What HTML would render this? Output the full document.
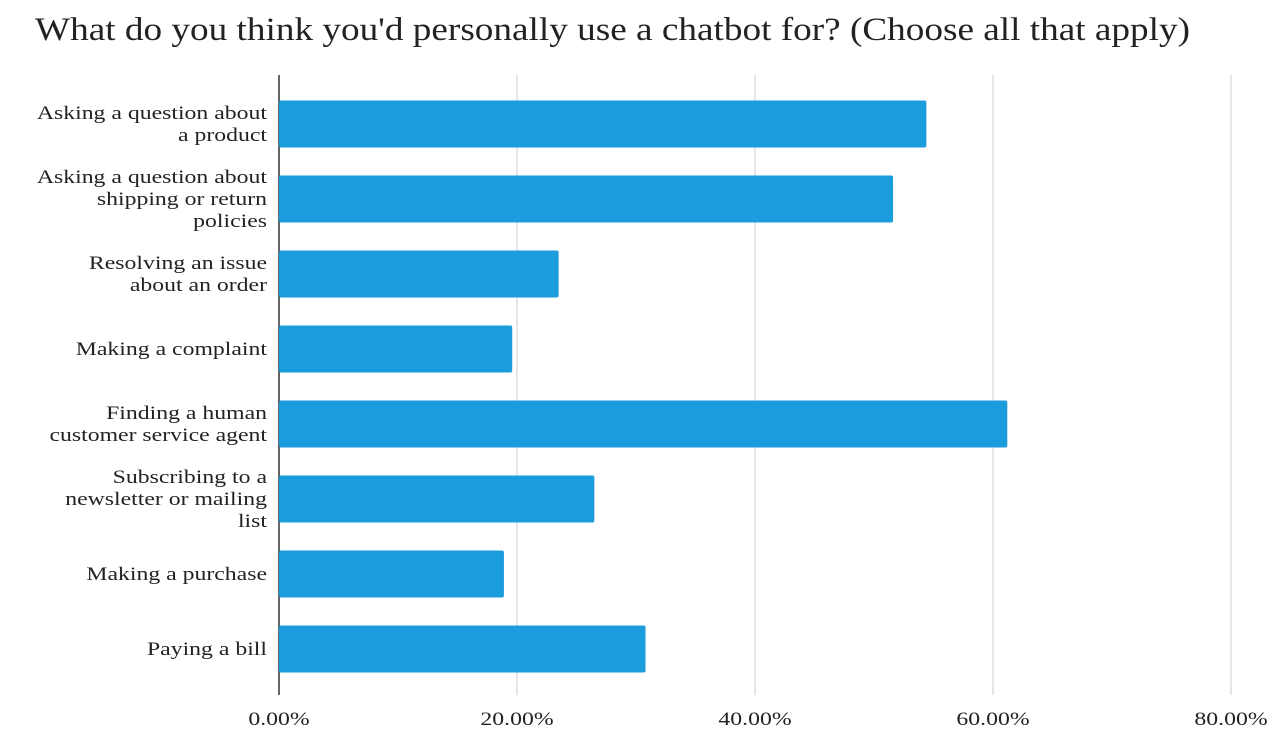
<!DOCTYPE html>
<html><head><meta charset="utf-8"><style>
body{margin:0;background:#fff;width:1272px;height:750px;overflow:hidden;font-family:"Liberation Serif",serif;}
svg text{font-family:"Liberation Serif",serif;fill:#222;}
</style></head><body>
<svg id="chart" width="1272" height="750">
<text x="35" y="40" font-size="33" textLength="1155" lengthAdjust="spacingAndGlyphs">What do you think you'd personally use a chatbot for? (Choose all that apply)</text>
<g id="grid"></g><g id="bars"></g><g id="labels"></g><g id="ticks"></g>
</svg>
<script>
const categories=[["Asking a question about","a product"],["Asking a question about","shipping or return","policies"],["Resolving an issue","about an order"],["Making a complaint"],["Finding a human","customer service agent"],["Subscribing to a","newsletter or mailing","list"],["Making a purchase"],["Paying a bill"]];
const values=[54.4,51.6,23.5,19.6,61.2,26.5,18.9,30.8];
const tickValues=[0,20,40,60,80];
const tickLabels=["0.00%","20.00%","40.00%","60.00%","80.00%"];
const NS="http://www.w3.org/2000/svg";
const x0=279,pxPer=11.9,top0=75,step=75,barH=47;
const xs=v=>x0+v*pxPer;
const yc=i=>124+step*i;
const SX=1.25;
function mk(t,a,p){const e=document.createElementNS(NS,t);for(const k in a)e.setAttribute(k,a[k]);p.appendChild(e);return e;}
const grid=document.getElementById('grid'),bars=document.getElementById('bars'),labels=document.getElementById('labels'),ticks=document.getElementById('ticks');
tickValues.forEach((v,i)=>{
 const l=mk('line',{x1:xs(v),x2:xs(v),y1:top0,y2:695,stroke:i==0?'#333':'#ccc','stroke-width':i==0?1.5:1},grid);
 
 
 const t=mk('text',{x:0,y:725,'font-size':19,'text-anchor':'middle',transform:`translate(${xs(v)},0) scale(${SX},1)`},ticks);
 t.textContent=tickLabels[i];
 
 
});
values.forEach((v,i)=>{
 const r=mk('rect',{x:x0,y:yc(i)-barH/2,width:xs(v)-x0,height:barH,fill:'#1b9cdc',rx:2},bars);
 
 
 const lines=categories[i];const lh=22;
 const t=mk('text',{x:0,'font-size':19,'text-anchor':'end',transform:`translate(267,0) scale(${SX},1)`},labels);
 
 
 lines.forEach((s,j)=>{const ts=mk('tspan',{x:0,y:yc(i)+6+(j-(lines.length-1)/2)*lh},t);ts.textContent=s;});
});
</script>
</body></html>
